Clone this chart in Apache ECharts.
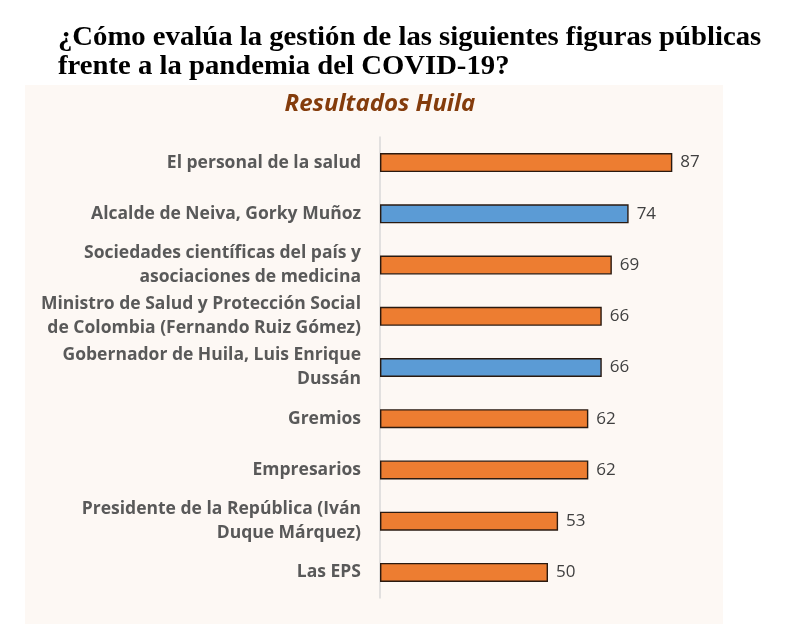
<!DOCTYPE html>
<html><head><meta charset="utf-8">
<script src="https://cdn.jsdelivr.net/npm/echarts@6/dist/echarts.min.js"></script>
<style>html,body{margin:0;padding:0;background:#fff}#c{width:802px;height:624px}</style>
</head><body><div id="c"></div>
<script>
const categories = [
  'El personal de la salud',
  'Alcalde de Neiva, Gorky Muñoz',
  'Sociedades científicas del país y\nasociaciones de medicina',
  'Ministro de Salud y Protección Social\nde Colombia (Fernando Ruiz Gómez)',
  'Gobernador de Huila, Luis Enrique\nDussán',
  'Gremios',
  'Empresarios',
  'Presidente de la República (Iván\nDuque Márquez)',
  'Las EPS'
];
const values = [87, 74, 69, 66, 66, 62, 62, 53, 50];
const isLocal = [false, true, false, false, true, false, false, false, false];
const titleText = '¿Cómo evalúa la gestión de las siguientes figuras públicas\nfrente a la pandemia del COVID-19?';
const subtitleText = 'Resultados Huila';

const chart = echarts.init(document.getElementById('c'));
chart.setOption({
  animation: false,
  backgroundColor: '#ffffff',
  graphic: [
    { type: 'rect', z: -10, shape: { x: 25, y: 85, width: 698, height: 545 }, style: { fill: '#fdf8f4' } },
    { type: 'text', x: 58, y: 23, scaleX: 1.025, style: { text: titleText, font: 'bold 28px "Liberation Serif"', fill: '#000', lineHeight: 29 } },
    { type: 'text', x: 380, y: 92, style: { text: subtitleText, font: 'italic bold 24px "Open Sans"', fill: '#843c0c', textAlign: 'center' } }
  ],
  grid: { left: 380, right: 86, top: 137, bottom: 26, containLabel: false },
  xAxis: { type: 'value', min: 0, max: 100, show: false },
  yAxis: {
    type: 'category', data: categories, inverse: true,
    axisLine: { show: true, lineStyle: { color: '#d9d9d9', width: 1.5 } },
    axisTick: { show: false },
    axisLabel: { color: '#595959', fontFamily: 'Open Sans', fontWeight: 'bold', fontSize: 17.5, lineHeight: 24, margin: 19, align: 'right', padding: [2, 0, 0, 0] }
  },
  series: [{
    type: 'bar', barWidth: 19,
    data: values.map((v, i) => ({ value: v, itemStyle: { color: isLocal[i] ? '#5b9bd5' : '#ed7d31' } })),
    itemStyle: { borderColor: '#2a1a10', borderWidth: 1.4 },
    label: { show: true, position: 'right', distance: 8, color: '#404040', fontFamily: 'Open Sans', fontSize: 17, padding: [3, 0, 0, 0] }
  }]
});
</script></body></html>
